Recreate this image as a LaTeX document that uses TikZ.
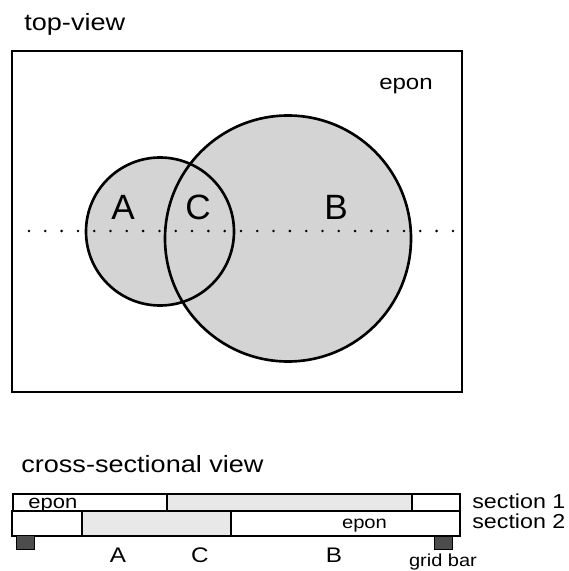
\documentclass[tikz,border=0pt]{standalone}
\usepackage{fontspec}
\setmainfont{Liberation Sans}
\newfontfamily\widesans[FakeStretch=1.15]{Liberation Sans}
\usetikzlibrary{positioning}
\definecolor{cStipple}{gray}{0.83}
\definecolor{cStippleLight}{gray}{0.91}
\definecolor{cGridBar}{gray}{0.30}
\tikzset{
  lbl/.style={inner sep=0pt, font=\widesans\fontsize{12}{14}\selectfont},
  title/.style={lbl, anchor=base west, font=\widesans\fontsize{13.4}{16}\selectfont},
  region/.style={inner sep=0pt, font=\fontsize{20}{24}\selectfont},
  outline/.style={draw=black, line width=0.6pt},
  rim/.style={draw=black, line width=1.5pt},
  divider/.style={draw=black, line width=1.3pt},
  scanline/.style={line width=1.6pt, line cap=round, dash pattern=on 0pt off 9.28pt},
  tissue/.style={fill=cStipple},
  thinsection/.style={fill=cStippleLight},
  gridbar/.style={fill=cGridBar, draw=black, line width=0.4pt,
    minimum width=0.36cm, minimum height=0.27cm, inner sep=0pt},
}

\begin{document}
\begin{tikzpicture}[x=0.02cm, y=-0.02cm]
  \useasboundingbox (0,0) rectangle (568,571);

  % ----------------------------------------------------------------
  % top view: epon block with the two objects A and B
  % ----------------------------------------------------------------
  \node[title] (toptitle) at (24,31) {top-view};
  \draw[outline] (12,51) rectangle (462,392);
  \node[lbl, anchor=base, font=\widesans\fontsize{11.9}{14}\selectfont] (eponTop) at (406,90) {epon};

  \fill[tissue] (160,231.5) circle [radius=74];
  \fill[tissue] (288,238.5) circle [radius=123];
  \draw[rim] (160,231.5) circle [radius=74];
  \draw[rim] (288,238.5) circle [radius=123];

  \node[region] (regA) at (123,207) {A};
  \node[region] (regC) at (198,207) {C};
  \node[region] (regB) at (336,207) {B};

  % cutting plane
  \coordinate (scanL) at (29,231);
  \coordinate (scanR) at (459,231);
  \draw[scanline] (scanL) -- (scanR);

  % ----------------------------------------------------------------
  % cross-sectional view: two serial sections on the grid
  % ----------------------------------------------------------------
  \node[title] (crosstitle) at (21,472) {cross-sectional view};

  % section 1 (through B only)
  \fill[thinsection] (167,494) rectangle (412,511);
  \draw[outline] (13,494) rectangle (460,511);
  \draw[divider] (167,494) -- (167,511);
  \draw[divider] (412,494) -- (412,511);

  % section 2 (through A and C)
  \fill[thinsection] (82,511) rectangle (231,536);
  \draw[outline] (12,511) rectangle (460,536);
  \draw[divider] (82,511) -- (82,536);
  \draw[divider] (231,511) -- (231,536);

  \node[lbl, anchor=base west, font=\widesans\fontsize{10.9}{13}\selectfont] (eponS1) at (28,508) {epon};
  \node[lbl, anchor=base, font=\widesans\fontsize{10}{12}\selectfont] (eponS2) at (364.5,528) {epon};

  \node[lbl, anchor=base west, font=\widesans\fontsize{11.5}{13}\selectfont] (sec1) at (472,508) {section 1};
  \node[lbl, anchor=base west, font=\widesans\fontsize{11.5}{13}\selectfont] (sec2) at (472,528) {section 2};

  % grid bars under the sections
  \node[gridbar] (barL) at (25,542.5) {};
  \node[gridbar] (barR) at (443,543) {};
  \node[lbl, below=0.7mm of barR, font=\widesans\fontsize{9.9}{12}\selectfont] (barlabel) {grid bar};

  \node[lbl] (crossA) at (118,555.5) {A};
  \node[lbl] (crossC) at (200,555.5) {C};
  \node[lbl] (crossB) at (334,555.5) {B};

\end{tikzpicture}
\end{document}
